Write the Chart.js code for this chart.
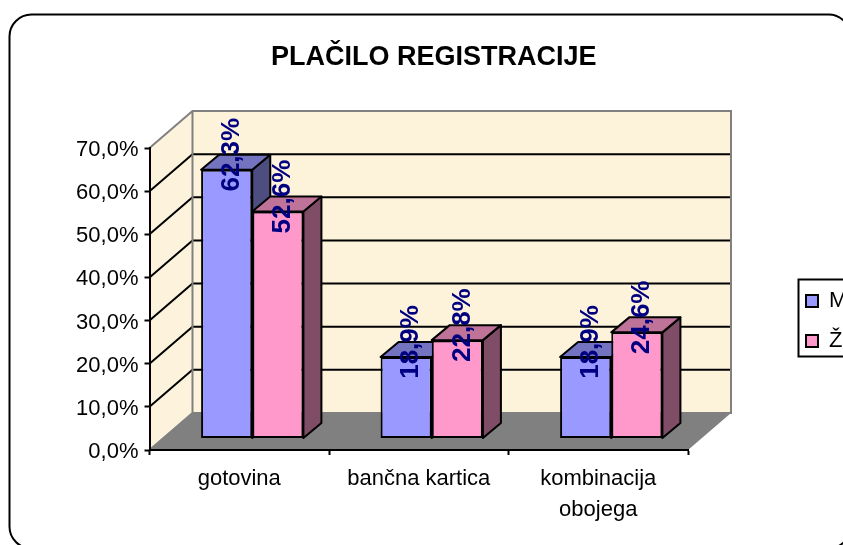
<!DOCTYPE html>
<html>
<head>
<meta charset="utf-8">
<title>Plačilo registracije</title>
<script src="https://cdn.jsdelivr.net/npm/chart.js@4/dist/chart.umd.js"></script>
<style>
  html, body { margin: 0; padding: 0; background: #fff; overflow: hidden; }
  canvas { display: block; }
</style>
</head>
<body>
<canvas id="chart" width="843" height="545"></canvas>
<script>
const titleText = 'PLAČILO REGISTRACIJE';
const categories = ['gotovina', 'bančna kartica', ['kombinacija', 'obojega']];
const seriesM = [62.3, 18.9, 18.9];
const seriesZ = [52.6, 22.8, 24.6];
const yMax = 70;
const yStep = 10;

const fontName = '"Liberation Sans", Arial, sans-serif';
const wallDepth = { x: 43, y: -37 };
const barShift = { x: 13, y: -11.5 };
const barDepth = { x: 18, y: -15 };

function percent(v, digits) {
    return v.toFixed(digits).replace('.', ',') + '%';
}

function shade(rgb, k) {
    return 'rgb(' + rgb.map(c => Math.round(c * k)).join(',') + ')';
}

function poly(ctx, pts, fill, stroke, width) {
    ctx.beginPath();
    pts.forEach((p, i) => i ? ctx.lineTo(p[0], p[1]) : ctx.moveTo(p[0], p[1]));
    ctx.closePath();
    if (fill) { ctx.fillStyle = fill; ctx.fill(); }
    if (stroke) { ctx.strokeStyle = stroke; ctx.lineWidth = width; ctx.lineJoin = 'round'; ctx.stroke(); }
}

// frame, walls and floor go under the axes
const roomPlugin = {
    id: 'room',
    afterLayout(chart) {
        chart.titleBlock.left += 55;
        chart.titleBlock.right += 55;
        const lg = chart.legend;
        const w = lg.width, h = lg.height;
        lg.left = 788; lg.right = 788 + w;
        lg.top = 272; lg.bottom = 272 + h;
    },
    beforeDraw(chart) {
        const ctx = chart.ctx, a = chart.chartArea, ys = chart.scales.y;
        const dx = wallDepth.x, dy = wallDepth.y;
        ctx.save();
        ctx.beginPath();
        ctx.roundRect(9.5, 14.5, 841, 534, 22);
        ctx.strokeStyle = '#000';
        ctx.lineWidth = 2;
        ctx.stroke();

        poly(ctx, [[a.left, a.bottom], [a.left, a.top], [a.left + dx, a.top + dy], [a.left + dx, a.bottom + dy]], '#fdf3dd');
        ctx.fillStyle = '#fdf2da';
        ctx.fillRect(a.left + dx, a.top + dy, a.right - a.left, a.bottom - a.top);
        poly(ctx, [[a.left, a.bottom], [a.left + dx, a.bottom + dy], [a.right + dx, a.bottom + dy], [a.right, a.bottom]], '#808080');

        ctx.lineWidth = 2;
        ctx.strokeStyle = '#000';
        ys.ticks.forEach(t => {
            if (t.value === 0 || t.value === yMax) return;
            const y = ys.getPixelForValue(t.value);
            ctx.beginPath();
            ctx.moveTo(a.left, y);
            ctx.lineTo(a.left + dx, y + dy);
            ctx.lineTo(a.right + dx, y + dy);
            ctx.stroke();
        });

        ctx.strokeStyle = '#808080';
        ctx.beginPath();
        ctx.moveTo(a.left, a.top);
        ctx.lineTo(a.left + dx, a.top + dy);
        ctx.lineTo(a.right + dx, a.top + dy);
        ctx.lineTo(a.right + dx, a.bottom + dy);
        ctx.lineTo(a.left + dx, a.bottom + dy);
        ctx.lineTo(a.left, a.bottom);
        ctx.moveTo(a.left + dx, a.top + dy);
        ctx.lineTo(a.left + dx, a.bottom + dy);
        ctx.stroke();
        ctx.restore();
    },
    afterDraw(chart) {
        const ctx = chart.ctx;
        ctx.save();
        ctx.strokeStyle = '#000';
        ctx.lineWidth = 2;
        ctx.strokeRect(798.5, 279.5, 60, 77);
        ctx.restore();
    }
};

// bars sit a little way into the room, with top and side faces behind them.
// chart.js paints the first dataset last, so all faces go down before any front
const bars3dPlugin = {
    id: 'bars3d',
    beforeDatasetsDraw(chart) {
        const ctx = chart.ctx;
        const dx = barDepth.x, dy = barDepth.y;
        ctx.save();
        ctx.translate(barShift.x, barShift.y);
        chart.data.datasets.forEach((ds, di) => {
            chart.getDatasetMeta(di).data.forEach(bar => {
                const p = bar.getProps(['x', 'y', 'base', 'width']);
                const l = p.x - p.width / 2, r = p.x + p.width / 2;
                poly(ctx, [[r, p.y], [r + dx, p.y + dy], [r + dx, p.base + dy], [r, p.base]], shade(ds.rgb, 0.5), '#000', 2);
                poly(ctx, [[l, p.y], [l + dx, p.y + dy], [r + dx, p.y + dy], [r, p.y]], shade(ds.rgb, 0.75), '#000', 2);
            });
        });
    },
    afterDatasetsDraw(chart) {
        const ctx = chart.ctx;
        ctx.restore();
        ctx.save();
        ctx.font = 'bold 26px ' + fontName;
        ctx.fillStyle = '#000080';
        ctx.textAlign = 'center';
        ctx.textBaseline = 'middle';
        chart.data.datasets.forEach((ds, di) => {
            chart.getDatasetMeta(di).data.forEach((bar, i) => {
                const p = bar.getProps(['x', 'y']);
                ctx.save();
                ctx.translate(p.x + barShift.x + 5, p.y + barShift.y - 15);
                ctx.rotate(-Math.PI / 2);
                ctx.fillText(percent(ds.data[i], 1), 0, 0);
                ctx.restore();
            });
        });
        ctx.restore();
    }
};

new Chart(document.getElementById('chart'), {
    type: 'bar',
    data: {
        labels: categories,
        datasets: [
            { label: 'M', data: seriesM, rgb: [153, 153, 255], backgroundColor: '#9999ff' },
            { label: 'Ž', data: seriesZ, rgb: [255, 153, 204], backgroundColor: '#ff99cc' }
        ].map(d => Object.assign(d, { borderColor: '#000', borderWidth: 2, borderSkipped: false, clip: false }))
    },
    options: {
        responsive: false,
        animation: false,
        layout: { padding: { left: 69.5, right: 155, top: 41, bottom: 5 } },
        datasets: { bar: { categoryPercentage: 0.57, barPercentage: 1 } },
        scales: {
            x: {
                afterFit(s) { s.height = 90; },
                grid: { drawOnChartArea: false, tickLength: 5, tickColor: '#000', tickWidth: 2 },
                border: { color: '#000', width: 2 },
                ticks: { color: '#000', padding: 8, maxRotation: 0, autoSkip: false, font: { family: fontName, size: 22, lineHeight: 1.41 } }
            },
            y: {
                min: 0,
                max: yMax,
                afterFit(s) { s.width = 80; },
                grid: { drawOnChartArea: false, tickLength: 5, tickColor: '#000', tickWidth: 2 },
                border: { color: '#000', width: 2 },
                ticks: { stepSize: yStep, color: '#000', padding: 6, labelOffset: 2, font: { family: fontName, size: 22 }, callback: v => percent(v, 1) }
            }
        },
        plugins: {
            title: {
                display: true,
                text: titleText,
                color: '#000',
                padding: { top: 0, bottom: 74.6 },
                font: { family: fontName, size: 27, weight: 'bold', lineHeight: 1.2 }
            },
            legend: {
                position: 'chartArea',
                align: 'start',
                labels: { color: '#000', boxWidth: 12, boxHeight: 12, padding: 18, font: { family: fontName, size: 22 } }
            },
            tooltip: { enabled: false }
        }
    },
    plugins: [roomPlugin, bars3dPlugin]
});
</script>
</body>
</html>
